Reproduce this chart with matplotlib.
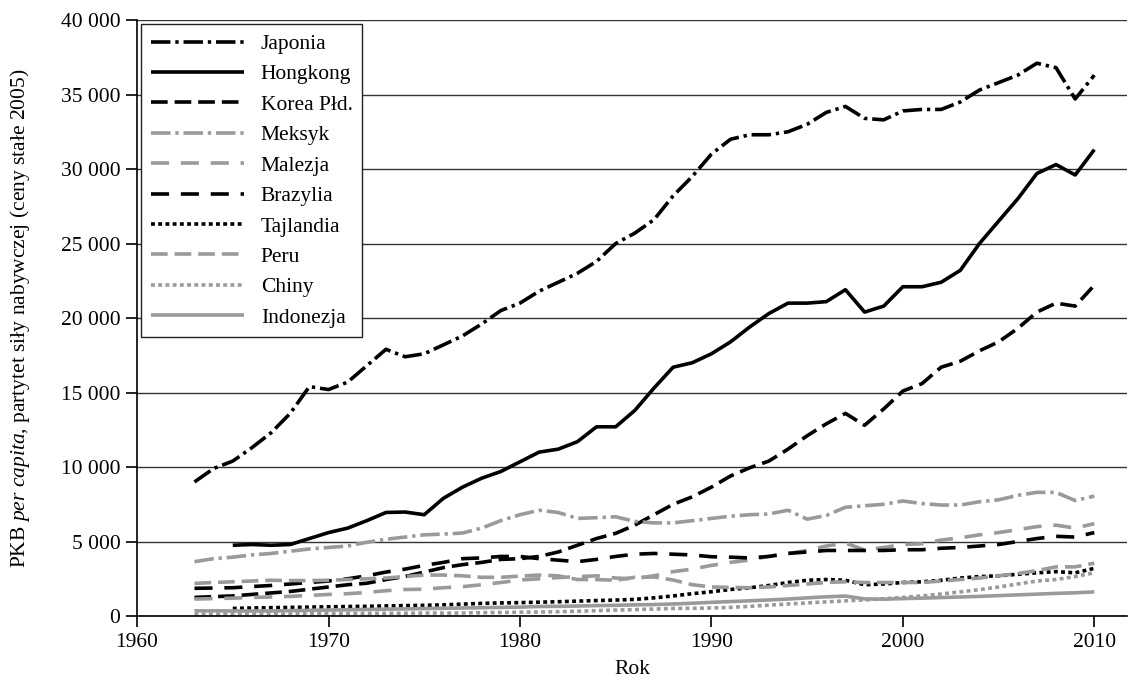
import numpy as np
import matplotlib
matplotlib.use("Agg")
import matplotlib.pyplot as plt
from matplotlib.ticker import FuncFormatter, MultipleLocator

plt.rcParams['font.family'] = ['Liberation Serif', 'DejaVu Serif']
plt.rcParams['mathtext.fontset'] = 'custom'
plt.rcParams['mathtext.rm'] = 'Liberation Serif'
plt.rcParams['mathtext.it'] = 'Liberation Serif:italic'
plt.rcParams['lines.scale_dashes'] = False

years_63 = list(range(1963, 2011))
years_65 = list(range(1965, 2011))

japonia = [9000, 9900, 10400, 11300, 12300, 13600, 15400, 15200, 15700, 16800,
           17900, 17400, 17600, 18200, 18800, 19600, 20500, 21000, 21800, 22400,
           23000, 23800, 25000, 25700, 26600, 28200, 29500, 31000, 32000, 32300,
           32300, 32500, 33000, 33800, 34200, 33400, 33300, 33900, 34000, 34000,
           34500, 35300, 35800, 36300, 37100, 36800, 34700, 36300]
hongkong = [4750, 4800, 4750, 4800, 5200, 5600, 5900, 6400, 6950, 6980,
            6800, 7900, 8650, 9250, 9700, 10350, 11000, 11200, 11700, 12700,
            12700, 13800, 15300, 16700, 17000, 17600, 18400, 19400, 20300, 21000,
            21000, 21100, 21900, 20400, 20800, 22100, 22100, 22400, 23200, 25000,
            26500, 28000, 29700, 30300, 29600, 31300]
korea = [1250, 1300, 1350, 1450, 1550, 1650, 1800, 1950, 2100, 2200,
         2450, 2650, 2950, 3250, 3450, 3600, 3800, 3850, 4000, 4300,
         4750, 5200, 5550, 6100, 6800, 7500, 8000, 8650, 9400, 9950,
         10400, 11200, 12100, 12900, 13600, 12800, 13900, 15100, 15600, 16700,
         17100, 17800, 18400, 19300, 20400, 21000, 20800, 22200]
meksyk = [3650, 3850, 3950, 4100, 4200, 4350, 4500, 4600, 4700, 4950,
          5150, 5300, 5450, 5500, 5570, 5900, 6400, 6800, 7100, 6950,
          6550, 6600, 6660, 6350, 6250, 6250, 6400, 6550, 6700, 6800,
          6850, 7100, 6500, 6750, 7300, 7400, 7500, 7720, 7550, 7450,
          7450, 7670, 7800, 8100, 8300, 8300, 7750, 8050]
malezja = [1140, 1170, 1200, 1250, 1280, 1320, 1380, 1450, 1500, 1580,
           1700, 1780, 1800, 1900, 1970, 2100, 2250, 2420, 2500, 2580,
           2640, 2700, 2550, 2500, 2700, 2980, 3150, 3400, 3600, 3760,
           4000, 4200, 4400, 4700, 4900, 4430, 4600, 4800, 4850, 5100,
           5250, 5450, 5600, 5800, 6000, 6100, 5900, 6200]
brazylia = [1860, 1880, 1900, 1980, 2050, 2150, 2250, 2350, 2500, 2700,
            2950, 3150, 3400, 3600, 3850, 3900, 4000, 4000, 3850, 3750,
            3650, 3800, 4000, 4150, 4200, 4150, 4100, 3980, 3950, 3900,
            4000, 4200, 4300, 4400, 4400, 4400, 4400, 4450, 4450, 4550,
            4600, 4700, 4800, 5000, 5200, 5350, 5300, 5600]
tajlandia = [510, 540, 560, 580, 600, 620, 640, 650, 680, 700,
             720, 750, 800, 850, 880, 900, 930, 960, 1000, 1040,
             1070, 1120, 1220, 1350, 1500, 1630, 1780, 1900, 2050, 2250,
             2400, 2450, 2400, 2100, 2150, 2250, 2300, 2400, 2550, 2650,
             2700, 2800, 2900, 2980, 2900, 3200]
peru = [2190, 2250, 2300, 2350, 2400, 2380, 2380, 2400, 2450, 2500,
        2550, 2650, 2750, 2750, 2700, 2600, 2600, 2680, 2750, 2700,
        2450, 2450, 2400, 2600, 2620, 2420, 2100, 1950, 1920, 1900,
        1950, 2050, 2150, 2250, 2300, 2250, 2250, 2250, 2250, 2350,
        2450, 2550, 2700, 2850, 3050, 3300, 3300, 3550]
chiny = [130, 130, 140, 150, 140, 140, 150, 165, 175, 180,
         185, 190, 200, 195, 205, 225, 240, 260, 270, 290,
         320, 360, 400, 430, 470, 510, 520, 540, 580, 650,
         730, 810, 880, 950, 1020, 1080, 1160, 1250, 1350, 1480,
         1620, 1770, 1950, 2150, 2350, 2450, 2650, 2900]
indonezja = [350, 350, 340, 340, 340, 360, 380, 400, 420, 440,
             460, 480, 500, 520, 540, 560, 580, 600, 640, 650,
             670, 700, 720, 750, 770, 810, 860, 920, 970, 1020,
             1080, 1140, 1220, 1290, 1340, 1150, 1130, 1170, 1200, 1240,
             1280, 1320, 1370, 1420, 1470, 1520, 1560, 1620]

black = 'black'
gray = '#9a9a9a'
dashdot = (0, (14, 3.5, 2.4, 3.5))
dense = (0, (12, 5))
sparse = (0, (13, 8.5))
dots = (0, (2.8, 2.4))

series = [
    ('Japonia', years_63, japonia, black, dashdot),
    ('Hongkong', years_65, hongkong, black, '-'),
    ('Korea Płd.', years_63, korea, black, dense),
    ('Meksyk', years_63, meksyk, gray, dashdot),
    ('Malezja', years_63, malezja, gray, sparse),
    ('Brazylia', years_63, brazylia, black, sparse),
    ('Tajlandia', years_65, tajlandia, black, dots),
    ('Peru', years_63, peru, gray, dense),
    ('Chiny', years_63, chiny, gray, dots),
    ('Indonezja', years_63, indonezja, gray, '-'),
]

fig = plt.figure(figsize=(11.28, 6.81), dpi=100)
ax = fig.add_axes([0.1215, 0.0954, 0.8775, 0.8752])

for name, x, y, col, ls in series:
    ax.plot(x, y, color=col, linestyle=ls, linewidth=2.6, label=name,
            dash_capstyle='butt', solid_capstyle='butt', solid_joinstyle='round')

ax.set_xlim(1960, 2011.7)
ax.set_ylim(0, 40000)
ax.xaxis.set_major_locator(MultipleLocator(10))
ax.yaxis.set_major_locator(MultipleLocator(5000))
ax.yaxis.set_major_formatter(FuncFormatter(lambda v, p: f"{int(v):,}".replace(',', ' ')))
ax.grid(axis='y', color='#333333', linewidth=1.0)
ax.set_axisbelow(True)
for s in ['top', 'right']:
    ax.spines[s].set_visible(False)
ax.spines['left'].set_linewidth(1.2)
ax.spines['bottom'].set_linewidth(1.2)
ax.tick_params(direction='out', length=8, width=1.2, labelsize=15.5, pad=4)

ax.set_xlabel('Rok', fontsize=15.5, labelpad=6)
ax.set_ylabel(r'PKB $\mathit{per\ capita}$, partytet siły nabywczej (ceny stałe 2005)',
              fontsize=15.5, labelpad=21)

leg = ax.legend(loc='upper left', fontsize=15.5, handlelength=4.3, handletextpad=0.8,
                labelspacing=0.48, borderaxespad=0.2, fancybox=False, framealpha=1,
                edgecolor='#222222', borderpad=0.45)
leg.get_frame().set_linewidth(1.0)

fig.savefig('out.png', dpi=100)
